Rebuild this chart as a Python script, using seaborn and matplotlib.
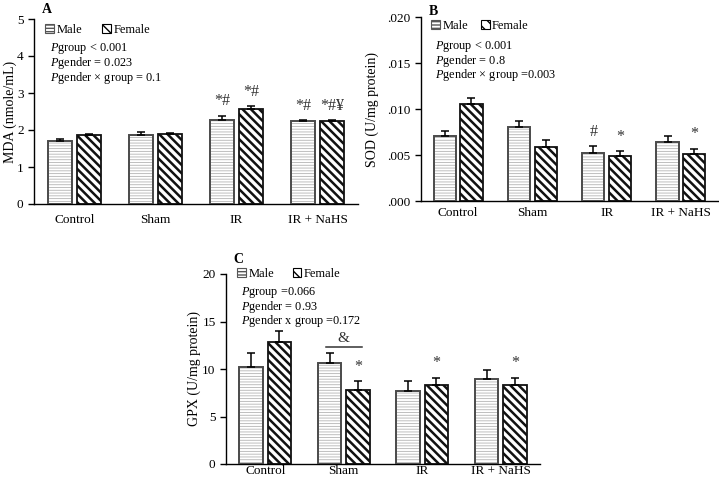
import matplotlib
matplotlib.use('Agg')
import matplotlib.pyplot as plt
from matplotlib.patches import Patch, Rectangle
import numpy as np
import pandas as pd
import seaborn as sns

GROUPS = ['Control', 'Sham', 'IR', 'IR + NaHS']
SEXES = ['Male', 'Female']

mda_male = [1.71, 1.87, 2.28, 2.23]
mda_female = [1.86, 1.89, 2.57, 2.23]
mda_male_err = [0.04, 0.07, 0.11, 0.04]
mda_female_err = [0.04, 0.02, 0.07, 0.04]

sod_male = [0.0071, 0.0080, 0.0052, 0.00645]
sod_female = [0.0105, 0.0059, 0.0049, 0.0051]
sod_male_err = [0.00055, 0.00070, 0.00075, 0.00060]
sod_female_err = [0.00065, 0.00070, 0.00055, 0.00060]

gpx_male = [10.2, 10.65, 7.7, 9.0]
gpx_female = [12.8, 7.8, 8.3, 8.3]
gpx_male_err = [1.5, 1.05, 1.05, 0.9]
gpx_female_err = [1.2, 0.9, 0.8, 0.8]

mda_ticks = [0, 1, 2, 3, 4, 5]
mda_ticklabels = ['0', '1', '2', '3', '4', '5']
sod_ticks = [0, 0.005, 0.010, 0.015, 0.020]
sod_ticklabels = ['.000', '.005', '.010', '.015', '.020']
gpx_ticks = [0, 5, 10, 15, 20]
gpx_ticklabels = ['0', '5', '10', '15', '20']

mda_stats = [r'$\mathit{P}$group < 0.001', r'$\mathit{P}$gender = 0.023',
             r'$\mathit{P}$gender × group = 0.1']
sod_stats = [r'$\mathit{P}$group < 0.001', r'$\mathit{P}$gender = 0.8',
             r'$\mathit{P}$gender × group =0.003']
gpx_stats = [r'$\mathit{P}$group =0.066', r'$\mathit{P}$gender = 0.93',
             r'$\mathit{P}$gender x group =0.172']

# significance marks: (group index, sex index, text)
mda_marks = [(2, 0, '*#'), (2, 1, '*#'), (3, 0, '*#'), (3, 1, '*#¥')]
sod_marks = [(2, 0, '#'), (2, 1, '*'), (3, 1, '*')]
gpx_marks = [(1, 1, '*'), (2, 1, '*'), (3, 1, '*')]
gpx_amp_level = 12.3

plt.rcParams['font.family'] = ['Liberation Serif', 'DejaVu Serif']
plt.rcParams['mathtext.fontset'] = 'custom'
plt.rcParams['mathtext.rm'] = 'Liberation Serif'
plt.rcParams['mathtext.it'] = 'Liberation Serif:italic'
plt.rcParams['hatch.linewidth'] = 1.0

MALE_HATCH = '------'
FEMALE_HATCH = '\\\\\\\\'
MALE_HCOL = '#b4b4b4'
EDGE_M = '#4a4a4a'
EDGE_F = '#111111'


def set_hatch_lw(p, lw):
    if hasattr(p, 'set_hatch_linewidth'):
        p.set_hatch_linewidth(lw)
    elif hasattr(p, '_hatch_linewidth'):
        p._hatch_linewidth = lw


def panel(ax, male, female, male_err, female_err, ylim, ticks, ticklabels,
          ylabel, letter, stats, marks, layout):
    df = pd.DataFrame({
        'group': GROUPS * 2,
        'sex': ['Male'] * 4 + ['Female'] * 4,
        'value': male + female,
    })
    sns.barplot(data=df, x='group', y='value', hue='sex', hue_order=SEXES,
                order=GROUPS, errorbar=None, width=0.72, gap=0.17,
                palette=['white', 'white'], legend=False, ax=ax)
    errs = [male_err, female_err]
    tops = {}
    for si, cont in enumerate(ax.containers[:2]):
        xs = []
        for gi, p in enumerate(cont.patches):
            p.set_facecolor('white')
            if si == 0:
                p.set_hatch(MALE_HATCH)
                p.set_edgecolor(MALE_HCOL)
                p.set_linewidth(0)
                set_hatch_lw(p, 0.6)
                ax.add_patch(Rectangle((p.get_x(), p.get_y()), p.get_width(),
                                       p.get_height(), fill=False,
                                       edgecolor=EDGE_M, lw=1.4, zorder=3))
            else:
                p.set_hatch(FEMALE_HATCH)
                p.set_edgecolor(EDGE_F)
                p.set_linewidth(1.3)
                set_hatch_lw(p, 1.8)
            xc = p.get_x() + p.get_width() / 2
            xs.append(xc)
            tops[gi, si] = (xc, p.get_height() + errs[si][gi])
        vals = male if si == 0 else female
        ax.errorbar(xs, vals, yerr=[np.zeros(4), errs[si]], fmt='none',
                    ecolor='black', elinewidth=1.1, capsize=3, capthick=1.1,
                    zorder=4)
    for gi, si, txt in marks:
        xc, yt = tops[gi, si]
        ax.annotate(txt, (xc, yt), xytext=(0, 4.5), textcoords='offset points',
                    ha='center', va='bottom', fontsize=11.5, color='#333333')

    ax.set_xlim(-0.5, 3.5)
    ax.set_ylim(*ylim)
    ax.set_yticks(ticks)
    ax.set_yticklabels(ticklabels)
    ax.set_xlabel('')
    ax.set_ylabel(ylabel, fontsize=10, labelpad=layout['ylabelpad'])
    ax.tick_params(axis='x', length=0, labelsize=9.5, pad=layout['xpad'])
    ax.tick_params(axis='y', length=4, width=1, labelsize=9.5, direction='out')
    for s in ['top', 'right']:
        ax.spines[s].set_visible(False)
    for s in ['left', 'bottom']:
        ax.spines[s].set_color('black')
        ax.spines[s].set_linewidth(1.0)

    handles = [
        Patch(facecolor='white', edgecolor='#555555', hatch='-----', lw=0.8),
        Patch(facecolor='white', edgecolor='black', hatch='\\\\\\', lw=0.8),
    ]
    ax.legend(handles, SEXES, loc='center left',
              bbox_to_anchor=(0.035, layout['leg_y']),
              ncol=2, frameon=False, fontsize=9, handlelength=0.7,
              handleheight=0.7, handletextpad=0.2,
              columnspacing=layout['colspace'], borderaxespad=0,
              borderpad=0)
    for i, line in enumerate(stats):
        ax.text(0.048, layout['stat_y'] - i * layout['stat_step'], line,
                transform=ax.transAxes, fontsize=8.8, va='center', ha='left')
    ax.text(0.025, layout['letter_y'], letter, transform=ax.transAxes,
            fontsize=10, fontweight='bold', va='center', ha='left')


fig = plt.figure(figsize=(7.19, 4.82), dpi=100)
W, H = 719, 482


def axes_px(x0, y0, x1, y1):
    return fig.add_axes([x0 / W, 1 - y1 / H, (x1 - x0) / W, (y1 - y0) / H])


ax_a = axes_px(34, 19, 358, 204)
ax_b = axes_px(421, 17, 718, 201)
ax_c = axes_px(226, 274, 540, 464)

panel(ax_a, mda_male, mda_female, mda_male_err, mda_female_err, (0, 5),
      mda_ticks, mda_ticklabels, 'MDA (nmole/mL)', 'A', mda_stats, mda_marks,
      dict(ylabelpad=0, xpad=7, leg_y=0.94, colspace=1.6, stat_y=0.843,
           stat_step=0.081, letter_y=1.05))
panel(ax_b, sod_male, sod_female, sod_male_err, sod_female_err, (0, 0.02),
      sod_ticks, sod_ticklabels, 'SOD (U/mg protein)', 'B', sod_stats,
      sod_marks,
      dict(ylabelpad=6, xpad=4, leg_y=0.95, colspace=1.0, stat_y=0.837,
           stat_step=0.077, letter_y=1.03))
panel(ax_c, gpx_male, gpx_female, gpx_male_err, gpx_female_err, (0, 20),
      gpx_ticks, gpx_ticklabels, 'GPX (U/mg protein)', 'C', gpx_stats,
      gpx_marks,
      dict(ylabelpad=1, xpad=1, leg_y=1.0, colspace=1.5, stat_y=0.9,
           stat_step=0.073, letter_y=1.075))

# ampersand bracket over the Sham pair in panel C
xm = ax_c.containers[0].patches[1]
xf = ax_c.containers[1].patches[1]
x0 = xm.get_x() + xm.get_width() / 2 - 0.05
x1 = xf.get_x() + xf.get_width() / 2 + 0.05
ax_c.plot([x0, x1], [gpx_amp_level, gpx_amp_level], color='#333333', lw=1.1)
ax_c.text((x0 + x1) / 2, gpx_amp_level + 0.2, '&', ha='center', va='bottom',
          fontsize=11, color='#333333')

fig.savefig('out.png', dpi=100)
